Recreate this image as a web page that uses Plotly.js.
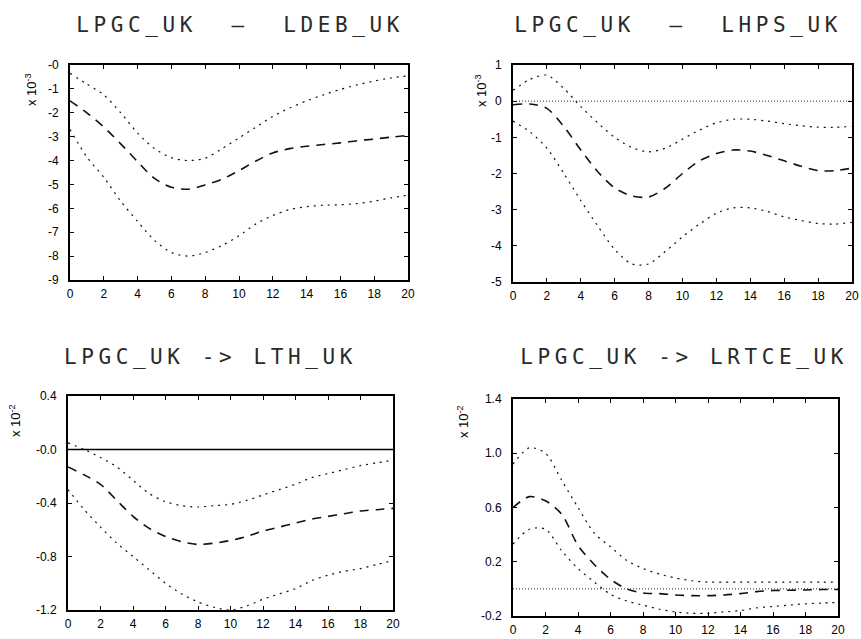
<!DOCTYPE html>
<html>
<head>
<meta charset="utf-8">
<script src="https://cdn.plot.ly/plotly-3.0.1.min.js"></script>
<style>
  html, body { margin: 0; padding: 0; background: #fff; }
  #chart { width: 861px; height: 639px; }
  /* wide plotter-style lettering for the panel headings */
  .annotation[data-index="0"] text,
  .annotation[data-index="1"] text,
  .annotation[data-index="2"] text,
  .annotation[data-index="3"] text { letter-spacing: 4.6px; }
</style>
</head>
<body>
<div id="chart"></div>
<script>
// Impulse responses over a 20-period horizon: point estimate and error bands
const horizon = [0,1,2,3,4,5,6,7,8,9,10,11,12,13,14,15,16,17,18,19,20];

// LPGC_UK -> LDEB_UK (x 10^-3)
const ldebUpper = [-0.35,-0.8,-1.25,-2.0,-2.85,-3.5,-3.88,-4.0,-3.9,-3.5,-3.05,-2.6,-2.15,-1.8,-1.5,-1.25,-1.02,-0.83,-0.67,-0.54,-0.45];
const ldebMid   = [-1.5,-2.0,-2.6,-3.3,-4.05,-4.75,-5.12,-5.2,-5.02,-4.78,-4.42,-4.02,-3.68,-3.5,-3.4,-3.33,-3.26,-3.17,-3.1,-3.02,-2.95];
const ldebLower = [-2.7,-3.85,-4.7,-5.7,-6.55,-7.35,-7.85,-8.0,-7.85,-7.55,-7.15,-6.65,-6.3,-6.05,-5.93,-5.87,-5.85,-5.8,-5.7,-5.56,-5.45];

// LPGC_UK -> LHPS_UK (x 10^-3)
const lhpsUpper = [0.3,0.6,0.72,0.35,-0.15,-0.6,-1.0,-1.28,-1.4,-1.3,-1.05,-0.8,-0.6,-0.5,-0.5,-0.55,-0.62,-0.68,-0.72,-0.72,-0.7];
const lhpsMid   = [-0.1,-0.08,-0.2,-0.7,-1.35,-1.95,-2.4,-2.62,-2.65,-2.4,-2.0,-1.65,-1.45,-1.35,-1.38,-1.5,-1.65,-1.8,-1.92,-1.92,-1.85];
const lhpsLower = [-0.55,-0.85,-1.3,-2.0,-2.75,-3.45,-4.1,-4.5,-4.5,-4.15,-3.75,-3.4,-3.1,-2.95,-2.95,-3.05,-3.2,-3.3,-3.38,-3.4,-3.35];

// LPGC_UK -> LTH_UK (x 10^-2)
const lthUpper = [0.05,0.0,-0.06,-0.13,-0.23,-0.33,-0.39,-0.42,-0.43,-0.42,-0.41,-0.38,-0.34,-0.3,-0.26,-0.21,-0.18,-0.15,-0.12,-0.1,-0.08];
const lthMid   = [-0.13,-0.19,-0.26,-0.38,-0.5,-0.59,-0.65,-0.69,-0.71,-0.7,-0.68,-0.65,-0.61,-0.58,-0.55,-0.52,-0.5,-0.48,-0.46,-0.45,-0.44];
const lthLower = [-0.3,-0.45,-0.58,-0.7,-0.8,-0.9,-1.0,-1.08,-1.14,-1.18,-1.2,-1.17,-1.12,-1.08,-1.04,-0.98,-0.94,-0.91,-0.89,-0.86,-0.83];

// LPGC_UK -> LRTCE_UK (x 10^-2)
const lrtceUpper = [0.92,1.04,1.0,0.8,0.6,0.41,0.31,0.21,0.15,0.11,0.08,0.06,0.05,0.05,0.05,0.05,0.05,0.05,0.05,0.05,0.05];
const lrtceMid   = [0.6,0.68,0.65,0.55,0.32,0.18,0.07,0.0,-0.03,-0.035,-0.045,-0.05,-0.05,-0.045,-0.035,-0.02,-0.012,-0.01,-0.008,-0.005,-0.005];
const lrtceLower = [0.33,0.44,0.44,0.28,0.15,0.05,-0.04,-0.09,-0.12,-0.15,-0.17,-0.18,-0.18,-0.17,-0.16,-0.14,-0.13,-0.12,-0.11,-0.105,-0.1];

// Headings and axis labelling
const panelTitles = ['LPGC_UK  \u2014  LDEB_UK', 'LPGC_UK  \u2014  LHPS_UK', 'LPGC_UK -> LTH_UK', 'LPGC_UK -> LRTCE_UK'];
const scaleLabels = ['x 10<sup>-3</sup>', 'x 10<sup>-3</sup>', 'x 10<sup>-2</sup>', 'x 10<sup>-2</sup>'];
const xTicks = [0,2,4,6,8,10,12,14,16,18,20];
const ldebTicks = [0,-1,-2,-3,-4,-5,-6,-7,-8,-9];
const ldebTickText = ['-0','-1','-2','-3','-4','-5','-6','-7','-8','-9'];
const lhpsTicks = [1,0,-1,-2,-3,-4,-5];
const lhpsTickText = ['1','0','-1','-2','-3','-4','-5'];
const lthTicks = [0.4,0,-0.4,-0.8,-1.2];
const lthTickText = ['0.4','-0.0','-0.4','-0.8','-1.2'];
const lrtceTicks = [1.4,1.0,0.6,0.2,-0.2];
const lrtceTickText = ['1.4','1.0','0.6','0.2','-0.2'];

const W = 861, H = 639;
const fx = px => px / W;
const fy = py => 1 - py / H;

const bandLine = { color: '#111', width: 1.2, dash: '2px,5px', shape: 'spline', smoothing: 0.8 };
const midLine  = { color: '#111', width: 1.6, dash: '9px,7px', shape: 'spline', smoothing: 0.8 };

function panel(n, upper, mid, lower) {
  const xa = n === 1 ? 'x' : 'x' + n, ya = n === 1 ? 'y' : 'y' + n;
  return [
    { x: horizon, y: upper, xaxis: xa, yaxis: ya, mode: 'lines', line: bandLine, hoverinfo: 'skip' },
    { x: horizon, y: mid,   xaxis: xa, yaxis: ya, mode: 'lines', line: midLine,  hoverinfo: 'skip' },
    { x: horizon, y: lower, xaxis: xa, yaxis: ya, mode: 'lines', line: bandLine, hoverinfo: 'skip' }
  ];
}

const data = [].concat(
  panel(1, ldebUpper, ldebMid, ldebLower),
  panel(2, lhpsUpper, lhpsMid, lhpsLower),
  panel(3, lthUpper, lthMid, lthLower),
  panel(4, lrtceUpper, lrtceMid, lrtceLower)
);

const tickFont = { family: 'Liberation Sans, Arial, sans-serif', size: 12, color: '#000' };

function xAxis(l, r, anchor) {
  return {
    domain: [fx(l), fx(r)], range: [0, 20], anchor: anchor,
    tickvals: xTicks, ticks: 'inside', ticklen: 4, tickwidth: 1, tickcolor: '#000',
    showline: true, linecolor: '#000', linewidth: 2, mirror: 'ticks',
    showgrid: false, zeroline: false, tickfont: tickFont, ticklabelstandoff: 2, fixedrange: true
  };
}
function yAxis(t, b, range, vals, text, anchor) {
  return {
    domain: [fy(b), fy(t)], range: range, anchor: anchor,
    tickvals: vals, ticktext: text, ticks: 'inside', ticklen: 4, tickwidth: 1, tickcolor: '#000',
    showline: true, linecolor: '#000', linewidth: 2, mirror: 'ticks',
    showgrid: false, zeroline: false, tickfont: tickFont, ticklabelstandoff: 7, fixedrange: true
  };
}

const titleFont = { family: 'DejaVu Sans Mono, monospace', size: 21, color: '#2a2a2a' };
const scaleFont = { family: 'Liberation Sans, Arial, sans-serif', size: 13, color: '#000' };

const headingPos = [[241, 25], [678, 25], [210, 357], [684, 357]];
const scalePos = [[31, 90], [481, 90], [15, 421], [463, 422]];

const annotations = [];
panelTitles.forEach((t, i) => {
  annotations.push({
    text: t, xref: 'paper', yref: 'paper', x: fx(headingPos[i][0]), y: fy(headingPos[i][1]),
    xanchor: 'center', yanchor: 'middle', showarrow: false, font: titleFont
  });
});
scaleLabels.forEach((t, i) => {
  annotations.push({
    text: t, xref: 'paper', yref: 'paper', x: fx(scalePos[i][0]), y: fy(scalePos[i][1]),
    xanchor: 'center', yanchor: 'middle', textangle: -90, showarrow: false, font: scaleFont
  });
});

// reference lines at zero
const shapes = [
  { type: 'line', xref: 'x2 domain', yref: 'y2', x0: 0, x1: 1, y0: 0, y1: 0,
    line: { color: '#222', width: 1, dash: '1px,2px' } },
  { type: 'line', xref: 'x3 domain', yref: 'y3', x0: 0, x1: 1, y0: 0, y1: 0,
    line: { color: '#000', width: 1.5 } },
  { type: 'line', xref: 'x4 domain', yref: 'y4', x0: 0, x1: 1, y0: 0, y1: 0,
    line: { color: '#222', width: 1, dash: '1px,2px' } }
];

const layout = {
  width: W, height: H,
  margin: { l: 0, r: 0, t: 0, b: 0 },
  paper_bgcolor: '#fff', plot_bgcolor: '#fff',
  showlegend: false,
  hovermode: false,
  xaxis:  xAxis(70, 408, 'y'),
  yaxis:  yAxis(65, 280, [-9, 0], ldebTicks, ldebTickText, 'x'),
  xaxis2: xAxis(513, 852, 'y2'),
  yaxis2: yAxis(65, 282, [-5, 1], lhpsTicks, lhpsTickText, 'x2'),
  xaxis3: xAxis(68, 393, 'y3'),
  yaxis3: yAxis(396, 610, [-1.2, 0.4], lthTicks, lthTickText, 'x3'),
  xaxis4: xAxis(513, 838, 'y4'),
  yaxis4: yAxis(399, 616, [-0.2, 1.4], lrtceTicks, lrtceTickText, 'x4'),
  annotations: annotations,
  shapes: shapes
};

Plotly.newPlot('chart', data, layout, { displayModeBar: false });
</script>
</body>
</html>
